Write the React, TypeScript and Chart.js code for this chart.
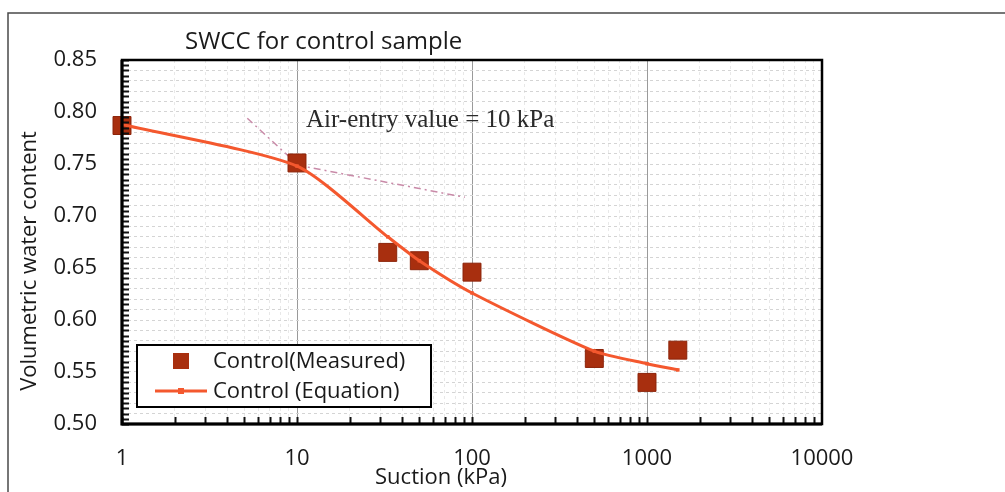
import React, { useEffect, useRef } from "react";
import { Chart, registerables } from "chart.js";

Chart.register(...registerables);

// ---- data ----
const SUCTION_MEASURED = [1, 10, 33, 50, 100, 500, 1000, 1500];
const VWC_MEASURED = [0.787, 0.751, 0.665, 0.657, 0.646, 0.563, 0.54, 0.571];

const SUCTION_EQUATION = [1, 10, 33, 50, 100, 500, 1000, 1500];
const VWC_EQUATION = [0.788, 0.748, 0.68, 0.657, 0.626, 0.57, 0.558, 0.552];

const TANGENT_A_X = [5.2, 10];
const TANGENT_A_Y = [0.794, 0.75];
const TANGENT_B_X = [10, 91];
const TANGENT_B_Y = [0.749, 0.718];

const X_MAJOR_TICKS = [1, 10, 100, 1000, 10000];
const X_MINOR_MULTIPLIERS = [1, 2, 3, 4, 5, 6, 7, 8, 9];
const Y_MIN = 0.5;
const Y_MAX = 0.85;
const Y_LABEL_STEP = 0.05;
const Y_GRID_STEP = 0.01;
const Y_MINOR_STEP = 0.005;

const TITLE = "SWCC for control sample";
const X_TITLE = "Suction (kPa)";
const Y_TITLE = "Volumetric water content";
const ANNOTATION = "Air-entry value = 10 kPa";
const LABEL_MEASURED = "Control(Measured)";
const LABEL_EQUATION = "Control (Equation)";

const MARKER_COLOR = "#a82f0f";
const MARKER_BORDER = "#8c240a";
const CURVE_COLOR = "#f4582e";
const TANGENT_COLOR = "#c98aa8";
const FONT = "'Open Sans', 'Noto Sans', sans-serif";

const toPoints = (xs: number[], ys: number[]) => xs.map((x, i) => ({ x, y: ys[i] }));

const isMultiple = (v: number, step: number) => Math.abs(v / step - Math.round(v / step)) < 1e-6;

const decorPlugin = {
  id: "decor",
  beforeDraw(chart: any) {
    const { ctx, width, height } = chart;
    ctx.save();
    ctx.fillStyle = "#ffffff";
    ctx.fillRect(0, 0, width, height);
    // outer frame (continues beyond the picture on the right and bottom)
    ctx.strokeStyle = "#4a4a4a";
    ctx.lineWidth = 1.5;
    ctx.beginPath();
    ctx.moveTo(8, height + 5);
    ctx.lineTo(8, 13);
    ctx.lineTo(width + 5, 13);
    ctx.stroke();
    ctx.restore();
  },
  afterDraw(chart: any) {
    const { ctx, chartArea } = chart;
    const xs = chart.scales.x;
    const ys = chart.scales.y;
    const { left, right, top, bottom } = chartArea;
    ctx.save();

    // inward tick marks
    ctx.strokeStyle = "#111";
    ctx.lineWidth = 2;
    ctx.beginPath();
    for (let v = Y_MIN; v <= Y_MAX + 1e-9; v += Y_MINOR_STEP) {
      const py = Math.round(ys.getPixelForValue(v)) + 0.5;
      ctx.moveTo(left, py);
      ctx.lineTo(left + 7, py);
    }
    for (let d = 0; d < X_MAJOR_TICKS.length - 1; d++) {
      for (const m of X_MINOR_MULTIPLIERS) {
        const px = Math.round(xs.getPixelForValue(X_MAJOR_TICKS[d] * m)) + 0.5;
        ctx.moveTo(px, bottom);
        ctx.lineTo(px, bottom - 7);
      }
    }
    ctx.stroke();

    // plot frame
    ctx.strokeStyle = "#000";
    ctx.lineWidth = 2.5;
    ctx.strokeRect(left, top, right - left, bottom - top);
    ctx.lineWidth = 3;
    ctx.beginPath();
    ctx.moveTo(left, top);
    ctx.lineTo(left, bottom);
    ctx.lineTo(right, bottom);
    ctx.stroke();

    // title
    ctx.fillStyle = "#1a1a1a";
    ctx.font = `24px ${FONT}`;
    ctx.textAlign = "left";
    ctx.textBaseline = "alphabetic";
    ctx.fillText(TITLE, 185, 49);

    // axis titles
    ctx.font = `22px ${FONT}`;
    ctx.textAlign = "center";
    ctx.textBaseline = "middle";
    ctx.fillText(X_TITLE, 441, 478);
    ctx.save();
    ctx.translate(30, 261);
    ctx.rotate(-Math.PI / 2);
    ctx.fillText(Y_TITLE, 0, 0);
    ctx.restore();

    // annotation
    ctx.fillStyle = "#2a2a2a";
    ctx.font = "25px 'Liberation Serif', 'DejaVu Serif', serif";
    ctx.textAlign = "left";
    ctx.textBaseline = "alphabetic";
    ctx.fillText(ANNOTATION, 306, 127);

    // legend
    const lx = 137, ly = 345, lw = 294, lh = 62;
    ctx.fillStyle = "#ffffff";
    ctx.fillRect(lx, ly, lw, lh);
    ctx.strokeStyle = "#000";
    ctx.lineWidth = 2;
    ctx.strokeRect(lx, ly, lw, lh);
    const ds = chart.data.datasets;
    ctx.fillStyle = ds[1].backgroundColor;
    ctx.fillRect(173, 353, 16, 16);
    ctx.strokeStyle = ds[0].borderColor;
    ctx.lineWidth = 3;
    ctx.beginPath();
    ctx.moveTo(155, 391);
    ctx.lineTo(207, 391);
    ctx.stroke();
    ctx.fillStyle = ds[0].borderColor;
    ctx.fillRect(178, 388, 6, 6);
    ctx.fillStyle = "#1a1a1a";
    ctx.font = `22px ${FONT}`;
    ctx.textAlign = "left";
    ctx.textBaseline = "alphabetic";
    ctx.fillText(ds[1].label, 213, 368);
    ctx.fillText(ds[0].label, 213, 398);

    ctx.restore();
  },
};

export default function App() {
  const ref = useRef<HTMLCanvasElement | null>(null);

  useEffect(() => {
    document.body.style.margin = "0";
    const canvas = ref.current;
    if (!canvas) return;

    const chart = new Chart(canvas, {
      type: "scatter",
      data: {
        datasets: [
          {
            label: LABEL_EQUATION,
            data: toPoints(SUCTION_EQUATION, VWC_EQUATION),
            showLine: true,
            borderColor: CURVE_COLOR,
            backgroundColor: CURVE_COLOR,
            borderWidth: 3,
            tension: 0.22,
            pointRadius: 2.5,
            pointStyle: "rect",
            pointBorderWidth: 0,
            order: 0,
          },
          {
            label: LABEL_MEASURED,
            data: toPoints(SUCTION_MEASURED, VWC_MEASURED),
            showLine: false,
            backgroundColor: MARKER_COLOR,
            borderColor: MARKER_BORDER,
            borderWidth: 1,
            pointStyle: "rect",
            pointRadius: 12.7,
            clip: false,
            order: 1,
          },
          {
            label: "tangent-a",
            data: toPoints(TANGENT_A_X, TANGENT_A_Y),
            showLine: true,
            borderColor: TANGENT_COLOR,
            borderWidth: 1.5,
            borderDash: [7, 4, 2, 4],
            pointRadius: 0,
            order: 2,
          },
          {
            label: "tangent-b",
            data: toPoints(TANGENT_B_X, TANGENT_B_Y),
            showLine: true,
            borderColor: TANGENT_COLOR,
            borderWidth: 1.5,
            borderDash: [7, 4, 2, 4],
            pointRadius: 0,
            order: 2,
          },
        ],
      },
      options: {
        responsive: false,
        animation: false,
        devicePixelRatio: 1,
        layout: { padding: { left: 0, right: 183, top: 60, bottom: 0 } },
        plugins: {
          legend: { display: false },
          title: { display: false },
          tooltip: { enabled: false },
        },
        scales: {
          x: {
            type: "logarithmic",
            min: 1,
            max: 10000,
            afterBuildTicks: (scale: any) => {
              const ticks: any[] = [];
              for (let d = 0; d < X_MAJOR_TICKS.length - 1; d++) {
                for (const m of X_MINOR_MULTIPLIERS) ticks.push({ value: X_MAJOR_TICKS[d] * m });
              }
              ticks.push({ value: X_MAJOR_TICKS[X_MAJOR_TICKS.length - 1] });
              scale.ticks = ticks;
            },
            afterFit: (scale: any) => {
              scale.height = 68;
            },
            ticks: {
              autoSkip: false,
              maxRotation: 0,
              padding: 22,
              color: "#1a1a1a",
              font: { family: FONT, size: 22 },
              callback: (v: any) => (X_MAJOR_TICKS.includes(Number(v)) ? String(v) : ""),
            },
            grid: {
              drawTicks: false,
              lineWidth: 1,
              color: (c: any) =>
                c.tick && X_MAJOR_TICKS.includes(c.tick.value) ? "#9a9a9a" : "#e8e8e8",
            },
            border: {
              display: false,
              dash: (c: any) => (c.tick && X_MAJOR_TICKS.includes(c.tick.value) ? [] : [3, 3]),
            },
          },
          y: {
            min: Y_MIN,
            max: Y_MAX,
            afterBuildTicks: (scale: any) => {
              const ticks: any[] = [];
              const n = Math.round((Y_MAX - Y_MIN) / Y_GRID_STEP);
              for (let i = 0; i <= n; i++) ticks.push({ value: +(Y_MIN + i * Y_GRID_STEP).toFixed(3) });
              scale.ticks = ticks;
            },
            afterFit: (scale: any) => {
              scale.width = 122;
            },
            ticks: {
              autoSkip: false,
              padding: 25,
              color: "#1a1a1a",
              font: { family: FONT, size: 22 },
              callback: (v: any) => (isMultiple(Number(v), Y_LABEL_STEP) ? Number(v).toFixed(2) : ""),
            },
            grid: {
              drawTicks: false,
              lineWidth: 1,
              color: "#d4d4d4",
            },
            border: { display: false, dash: [3, 3] },
          },
        },
      },
      plugins: [decorPlugin],
    });

    return () => chart.destroy();
  }, []);

  return (
    <div style={{ position: "relative", width: 1005, height: 492, overflow: "hidden" }}>
      <canvas ref={ref} width={1005} height={492} style={{ display: "block", width: 1005, height: 492 }} />
    </div>
  );
}
